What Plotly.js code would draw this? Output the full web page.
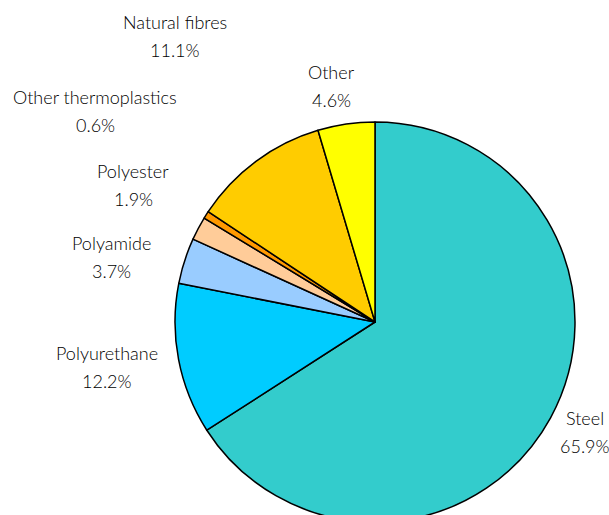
<!DOCTYPE html>
<html>
<head>
<meta charset="utf-8">
<script src="https://cdn.plot.ly/plotly-3.0.1.min.js"></script>
<style>
  html, body { margin: 0; padding: 0; background: #fff; }
  #wrap { width: 609px; height: 515px; overflow: hidden; position: relative; }
  #chart { width: 609px; height: 560px; }
</style>
</head>
<body>
<div id="wrap"><div id="chart"></div></div>
<script>
// ---- data ----
const categories = ["Steel", "Polyurethane", "Polyamide", "Polyester", "Other thermoplastics", "Natural fibres", "Other"];
const shares = [65.9, 12.2, 3.7, 1.9, 0.6, 11.1, 4.6];
const percentLabels = ["65.9%", "12.2%", "3.7%", "1.9%", "0.6%", "11.1%", "4.6%"];
const sliceColors = ["#33CCCC", "#00CCFF", "#99CCFF", "#FFCC99", "#FF9900", "#FFCC00", "#FFFF00"];

// ---- label layout: centre of each two-line label, in page pixels ----
const labelCenters = [[585, 432], [107, 367], [111, 257], [133, 185], [95, 111], [175, 36], [331, 86]];

const W = 609, H = 560;
const margin = { l: 175, r: 34, t: 122, b: 38 };
const plotW = W - margin.l - margin.r, plotH = H - margin.t - margin.b;
const toX = x => (x - margin.l) / plotW;
const toY = y => 1 - (y - margin.t) / plotH;

const labelFont = { family: "Lato, 'DejaVu Sans', sans-serif", size: 18, color: "#000000", weight: 300 };
const annotations = [];
categories.forEach((name, i) => {
  const [px, py] = labelCenters[i];
  annotations.push({ xref: "paper", yref: "paper", x: toX(px), y: toY(py - 14), text: name,
    showarrow: false, xanchor: "center", yanchor: "middle", font: labelFont });
  annotations.push({ xref: "paper", yref: "paper", x: toX(px), y: toY(py + 14), text: percentLabels[i],
    showarrow: false, xanchor: "center", yanchor: "middle", font: labelFont });
});

const trace = {
  type: "pie",
  labels: categories,
  values: shares,
  sort: false,
  direction: "clockwise",
  rotation: 0,
  textinfo: "none",
  hoverinfo: "label+percent",
  marker: { colors: sliceColors, line: { color: "#000000", width: 1.5 } },
  showlegend: false
};

Plotly.newPlot("chart", [trace], {
  width: W, height: H,
  margin: margin,
  paper_bgcolor: "#ffffff",
  plot_bgcolor: "#ffffff",
  showlegend: false,
  annotations: annotations
}, { displayModeBar: false, staticPlot: true });
</script>
</body>
</html>
